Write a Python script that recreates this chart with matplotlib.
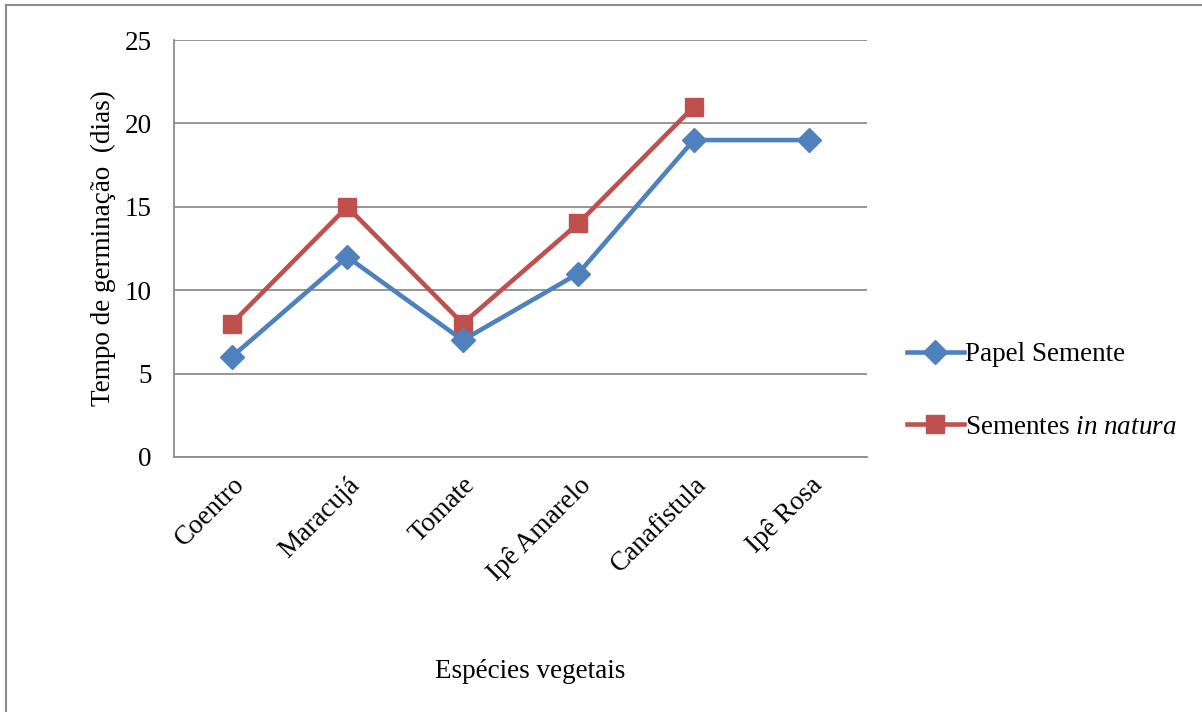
import numpy as np
import matplotlib.pyplot as plt
from matplotlib.lines import Line2D

plt.rcParams['font.family'] = ['Liberation Serif', 'DejaVu Serif']
plt.rcParams['mathtext.fontset'] = 'custom'
plt.rcParams['mathtext.rm'] = 'Liberation Serif'
plt.rcParams['mathtext.it'] = 'Liberation Serif:italic'

especies = ['Coentro', 'Maracujá', 'Tomate', 'Ipê Amarelo', 'Canafistula', 'Ipê Rosa']
papel_semente = [6, 12, 7, 11, 19, 19]
sementes_natura = [8, 15, 8, 14, 21, np.nan]

azul = '#4F81BD'
vermelho = '#C0504D'
cinza = '#8C8C8C'
fs = 19.5

fig = plt.figure(figsize=(12.02, 7.12), dpi=100)
ax = fig.add_axes([174 / 1202, 1 - 457 / 712, (867 - 174) / 1202, (457 - 40) / 712])

estilo_azul = dict(color=azul, lw=3.3, marker='D', ms=12, mfc=azul, mec=azul)
estilo_verm = dict(color=vermelho, lw=3.3, marker='s', ms=13.5, mfc=vermelho, mec=vermelho)

x = np.arange(len(especies))
ax.plot(x, papel_semente, zorder=3, **estilo_azul)
ax.plot(x, sementes_natura, zorder=2, **estilo_verm)

ax.set_xlim(-0.5, len(especies) - 0.5)
ax.set_ylim(0, 25)
ax.set_yticks(range(0, 26, 5))
ax.yaxis.grid(True, color=cinza, lw=1.3)
ax.set_axisbelow(True)
ax.tick_params(length=0, labelsize=fs)
ax.tick_params(axis='y', pad=16)
ax.set_xticks(x)
ax.set_xticklabels(especies, rotation=45, ha='right', rotation_mode='anchor')
ax.tick_params(axis='x', pad=11)

for s in ['top', 'right']:
    ax.spines[s].set_visible(False)
for s in ['left', 'bottom']:
    ax.spines[s].set_color(cinza)
    ax.spines[s].set_linewidth(1.3)

ax.set_ylabel('Tempo de germinação  (dias)', fontsize=fs, labelpad=6)
fig.text(530 / 1202, 1 - 672 / 712, 'Espécies vegetais', fontsize=fs,
         ha='center', va='center')

# legenda à direita, sem moldura
handles = [Line2D([], [], **estilo_azul), Line2D([], [], **estilo_verm)]
fig.legend(handles, ['Papel Semente', 'Sementes $\\mathit{in\\ natura}$'],
           loc='center left', bbox_to_anchor=(907 / 1202, 1 - 391 / 712),
           frameon=False, fontsize=fs, handlelength=2.1, handletextpad=0.05,
           labelspacing=1.75, borderaxespad=0, borderpad=0)

# borda do gráfico (esquerda e topo)
fig.add_artist(Line2D([6 / 1202, 6 / 1202], [0, 1 - 5 / 712], color=cinza, lw=1.5,
                      transform=fig.transFigure))
fig.add_artist(Line2D([6 / 1202, 1], [1 - 5 / 712, 1 - 5 / 712], color=cinza, lw=1.5,
                      transform=fig.transFigure))

fig.savefig('out.png', dpi=100, facecolor='white')
